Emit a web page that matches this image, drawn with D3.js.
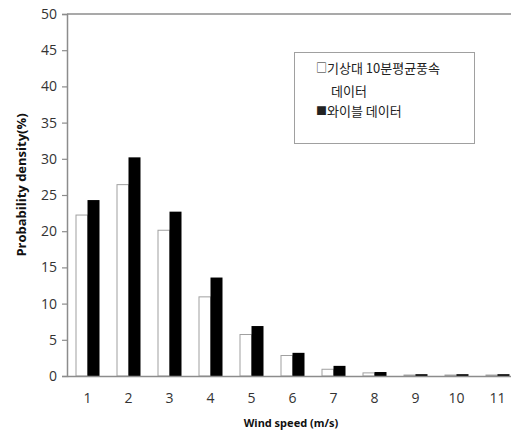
<!DOCTYPE html>
<html><head><meta charset="utf-8">
<script src="https://cdn.jsdelivr.net/npm/d3@7"></script>
<style>body{margin:0;background:#fff}svg{display:block}</style>
</head><body>
<svg id="c" width="511" height="434"></svg>
<script>
const categories = ["1","2","3","4","5","6","7","8","9","10","11"];
const observed = [22.3, 26.5, 20.2, 11.0, 5.8, 2.9, 1.0, 0.5, 0.2, 0.2, 0.2];
const weibull = [24.3, 30.2, 22.7, 13.6, 6.9, 3.2, 1.4, 0.55, 0.25, 0.25, 0.25];
const yTicks = [0,5,10,15,20,25,30,35,40,45,50];
const seriesNames = ["기상대 10분평균풍속", "와이블 데이터"];

const svg = d3.select("#c");
const pLeft = 67, pRight = 518, pTop = 14, pBottom = 376;
const x = d3.scaleBand().domain(categories).range([pLeft, pRight]).paddingInner(17/41).paddingOuter(17/82);
const xs = d3.scaleBand().domain([0,1]).range([0, x.bandwidth()]);
const y = d3.scaleLinear().domain([0,50]).range([pBottom, pTop]);
const axisColor = "#8c8c8c";

// top border
svg.append("line").attr("x1", pLeft).attr("x2", 511).attr("y1", pTop).attr("y2", pTop)
  .attr("stroke", axisColor).attr("stroke-width", 1.5);

// bars
const series = [observed, weibull];
series.forEach((vals, si) => {
  svg.append("g").selectAll("rect").data(vals).join("rect")
    .attr("x", (d,i) => x(categories[i]) + xs(si) + (si===0?0.5:0))
    .attr("y", d => y(d) + (si===0?0.5:0))
    .attr("width", xs.bandwidth() - (si===0?0.5:0))
    .attr("height", d => Math.max(0, pBottom - y(d) - (si===0?0.5:0)))
    .attr("fill", si===0 ? "#fff" : "#000")
    .attr("stroke", si===0 ? "#a0a0a0" : "none")
    .attr("stroke-width", 1);
});

// y axis
const yAxis = svg.append("g").attr("transform", `translate(${pLeft},0)`)
  .call(d3.axisLeft(y).tickValues(yTicks).tickSize(5).tickPadding(5).tickFormat(d3.format("d")));
yAxis.select(".domain").attr("stroke", axisColor).attr("stroke-width", 1.5);
yAxis.selectAll(".tick line").attr("stroke", axisColor).attr("stroke-width", 1.2);
yAxis.selectAll("text").attr("fill", "#333").style("font-family", "'Open Sans', 'Noto Sans', sans-serif").style("font-size", "14px");

// x axis
const xAxis = svg.append("g").attr("transform", `translate(0,${pBottom})`)
  .call(d3.axisBottom(x).tickSize(0).tickPadding(17));
xAxis.select(".domain").attr("stroke", axisColor).attr("stroke-width", 1.5);
xAxis.selectAll("text").attr("fill", "#333").style("font-family", "'Open Sans', 'Noto Sans', sans-serif").style("font-size", "14px");

// axis titles
svg.append("text").attr("x", 291).attr("y", 427).attr("text-anchor", "middle")
  .style("font-family", "'Liberation Sans Narrow', 'Noto Sans', sans-serif").style("font-weight", "bold")
  .style("font-size", "11px").attr("fill", "#111").text("Wind speed (m/s)");
svg.append("text").attr("transform", "translate(26,185) rotate(-90)").attr("text-anchor", "middle")
  .style("font-family", "'Open Sans', 'Noto Sans', sans-serif").style("font-weight", "bold")
  .style("font-size", "13px").attr("fill", "#111").text("Probability density(%)");

// legend
svg.append("rect").attr("x", 294.5).attr("y", 52.5).attr("width", 180).attr("height", 91)
  .attr("fill", "#fff").attr("stroke", "#a0a0a0").attr("stroke-width", 1);
const lg = svg.append("g").style("font-family", "'Noto Sans CJK KR', sans-serif").attr("fill", "#222");
const legendLines = [
  {x: 327, y: 73, t: seriesNames[0], m: "□"},
  {x: 331, y: 96, t: "데이터", m: ""},
  {x: 327, y: 116, t: seriesNames[1], m: "■"}
];
lg.selectAll("text.t").data(legendLines).join("text").attr("class", "t")
  .style("font-size", "13px")
  .attr("x", d => d.x).attr("y", d => d.y).text(d => d.t);
lg.selectAll("text.m").data(legendLines.filter(d => d.m)).join("text").attr("class", "m")
  .style("font-size", "11px")
  .attr("x", 316).attr("y", d => d.y - 1).text(d => d.m);
</script>
</body></html>
